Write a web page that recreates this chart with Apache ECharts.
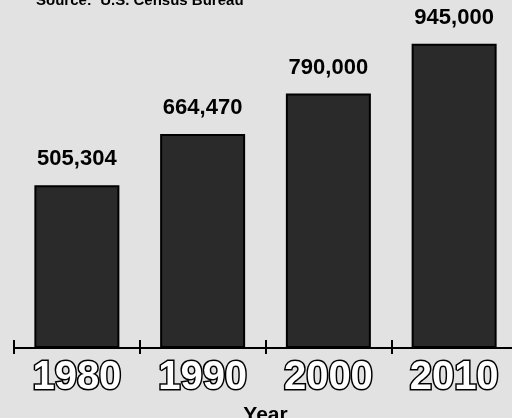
<!DOCTYPE html>
<html>
<head>
<meta charset="utf-8">
<script src="https://cdn.jsdelivr.net/npm/echarts@6/dist/echarts.min.js"></script>
<style>
html,body{margin:0;padding:0;background:#e2e2e2;}
#c{width:512px;height:418px;}
</style>
</head>
<body>
<div id="c"></div>
<script>
const categories = ['1980', '1990', '2000', '2010'];
const population = [505304, 664470, 790000, 945000];
const sourceText = 'Source:  U.S. Census Bureau';
const axisTitle = 'Year';

function fmt(v) {
  return String(v).replace(/\B(?=(\d{3})+(?!\d))/g, ',');
}

const chart = echarts.init(document.getElementById('c'), null, {renderer: 'canvas'});
chart.setOption({
  backgroundColor: '#e2e2e2',
  animation: false,
  title: {
    text: sourceText,
    left: 31,
    top: -12,
    textStyle: {fontFamily: 'Liberation Sans', fontWeight: 'bold', fontSize: 15, color: '#000'}
  },
  grid: {left: 14, right: -5, top: 26, bottom: 70, containLabel: false, outerBoundsMode: 'none'},
  xAxis: [{
    type: 'category',
    data: categories,
    position: 'bottom',
    axisLine: {show: true, lineStyle: {color: '#000', width: 2}},
    axisTick: {show: true, length: 6, lineStyle: {color: '#000', width: 2}},
    axisLabel: {
      margin: 10,
      fontFamily: 'Liberation Sans',
      fontWeight: 'bold',
      fontSize: 40,
      color: '#ffffff',
      textBorderColor: '#000',
      textBorderWidth: 3,
      textShadowColor: '#000',
      textShadowOffsetX: 2,
      textShadowOffsetY: 2,
      textShadowBlur: 0
    },
    name: axisTitle,
    nameLocation: 'middle',
    nameGap: 55,
    nameTextStyle: {fontFamily: 'Liberation Sans', fontWeight: 'bold', fontSize: 21, color: '#000'}
  }, {
    type: 'category',
    data: categories,
    position: 'bottom',
    axisLine: {show: false},
    axisTick: {show: true, inside: true, length: 8, lineStyle: {color: '#000', width: 2}},
    axisLabel: {show: false}
  }],
  yAxis: {type: 'value', min: 0, max: 1000000, show: false},
  series: [{
    type: 'bar',
    data: population,
    barWidth: 85,
    itemStyle: {color: '#2a2a2a', borderColor: '#000', borderWidth: 2},
    label: {
      show: true,
      position: 'top',
      distance: 15,
      formatter: p => fmt(p.value),
      fontFamily: 'Liberation Sans',
      fontWeight: 'bold',
      fontSize: 22,
      color: '#000'
    }
  }]
});
</script>
</body>
</html>
